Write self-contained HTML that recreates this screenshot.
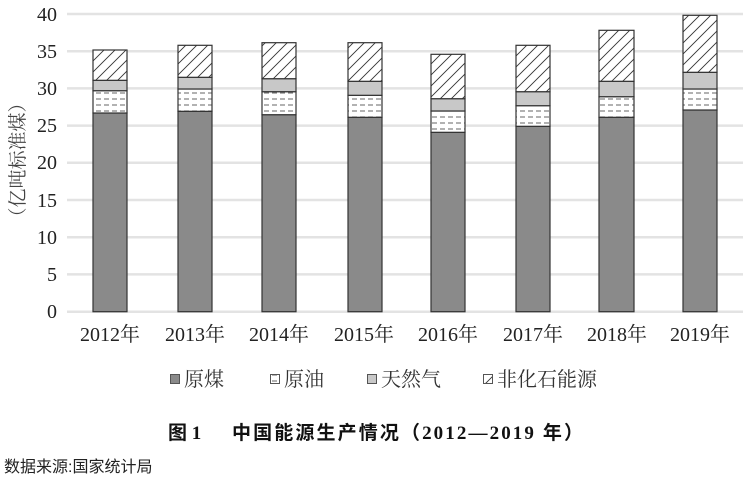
<!DOCTYPE html>
<html><head><meta charset="utf-8"><style>
body{margin:0;background:#fff;width:749px;height:479px;overflow:hidden}
svg{display:block}
.t{font-family:"Liberation Serif","Noto Serif CJK SC",serif;font-size:20px;fill:#222}
.c{font-family:"Liberation Sans","Noto Sans CJK SC",sans-serif}
</style></head><body>
<svg width="749" height="479" xmlns="http://www.w3.org/2000/svg">
<defs>
<pattern id="h" patternUnits="userSpaceOnUse" width="11" height="11">
<rect width="11" height="11" fill="#fff"/>
<path d="M-1,12 L12,-1 M-6,6 L6,-6 M5,17 L17,5" stroke="#333" stroke-width="0.9"/>
</pattern>
<pattern id="d" patternUnits="userSpaceOnUse" width="8" height="6">
<rect width="8" height="6" fill="#fff"/>
<path d="M0,3 H5" stroke="#555" stroke-width="0.9"/>
</pattern>
</defs>
<g stroke="#e3e3e3" stroke-width="2.5">
<line x1="67" x2="743" y1="14" y2="14"/><line x1="67" x2="743" y1="51.2" y2="51.2"/>
<line x1="67" x2="743" y1="88.4" y2="88.4"/><line x1="67" x2="743" y1="125.6" y2="125.6"/>
<line x1="67" x2="743" y1="162.8" y2="162.8"/><line x1="67" x2="743" y1="200" y2="200"/>
<line x1="67" x2="743" y1="237.2" y2="237.2"/><line x1="67" x2="743" y1="274.4" y2="274.4"/>
<line x1="67" x2="743" y1="311.7" y2="311.7"/>
</g>
<g class="t" text-anchor="end">
<text x="57" y="21">40</text><text x="57" y="58">35</text><text x="57" y="95">30</text>
<text x="57" y="132">25</text><text x="57" y="169">20</text><text x="57" y="207">15</text>
<text x="57" y="244">10</text><text x="57" y="281">5</text><text x="57" y="318">0</text>
</g>
<text class="t" transform="translate(24,160) rotate(-90)" text-anchor="middle" style="font-size:19px;fill:#444">（亿吨标准煤）</text>
<g stroke="#333" stroke-width="1.2">
<rect x="93" y="113" width="34" height="198.7" fill="#8a8a8a"/><rect x="93" y="90.7" width="34" height="22.3" fill="url(#d)"/><rect x="93" y="80.3" width="34" height="10.4" fill="#c8c8c8"/><rect x="93" y="50" width="34" height="30.3" fill="url(#h)"/>
<rect x="178" y="111.3" width="34" height="200.4" fill="#8a8a8a"/><rect x="178" y="89" width="34" height="22.3" fill="url(#d)"/><rect x="178" y="77.3" width="34" height="11.7" fill="#c8c8c8"/><rect x="178" y="45.3" width="34" height="32" fill="url(#h)"/>
<rect x="262" y="114.7" width="34" height="197" fill="#8a8a8a"/><rect x="262" y="91.7" width="34" height="23" fill="url(#d)"/><rect x="262" y="78.7" width="34" height="13" fill="#c8c8c8"/><rect x="262" y="42.7" width="34" height="36" fill="url(#h)"/>
<rect x="348" y="117.3" width="34" height="194.4" fill="#8a8a8a"/><rect x="348" y="95.3" width="34" height="22" fill="url(#d)"/><rect x="348" y="81.3" width="34" height="14" fill="#c8c8c8"/><rect x="348" y="42.7" width="34" height="38.6" fill="url(#h)"/>
<rect x="431" y="132.3" width="34" height="179.4" fill="#8a8a8a"/><rect x="431" y="111" width="34" height="21.3" fill="url(#d)"/><rect x="431" y="98.7" width="34" height="12.3" fill="#c8c8c8"/><rect x="431" y="54.3" width="34" height="44.4" fill="url(#h)"/>
<rect x="516" y="126.3" width="34" height="185.4" fill="#8a8a8a"/><rect x="516" y="105.7" width="34" height="20.6" fill="url(#d)"/><rect x="516" y="91.7" width="34" height="14" fill="#c8c8c8"/><rect x="516" y="45.3" width="34" height="46.4" fill="url(#h)"/>
<rect x="599" y="117.3" width="35" height="194.4" fill="#8a8a8a"/><rect x="599" y="96.7" width="35" height="20.6" fill="url(#d)"/><rect x="599" y="81.3" width="35" height="15.4" fill="#c8c8c8"/><rect x="599" y="30.3" width="35" height="51" fill="url(#h)"/>
<rect x="683" y="110" width="34" height="201.7" fill="#8a8a8a"/><rect x="683" y="89" width="34" height="21" fill="url(#d)"/><rect x="683" y="72.3" width="34" height="16.7" fill="#c8c8c8"/><rect x="683" y="15.3" width="34" height="57" fill="url(#h)"/>
</g>
<g class="t" text-anchor="middle">
<text x="110" y="341">2012年</text><text x="195" y="341">2013年</text><text x="279" y="341">2014年</text>
<text x="364" y="341">2015年</text><text x="448" y="341">2016年</text><text x="533" y="341">2017年</text>
<text x="617" y="341">2018年</text><text x="700" y="341">2019年</text>
</g>
<g stroke="#555" stroke-width="1">
<rect x="170.5" y="374.5" width="9" height="9" fill="#8a8a8a"/>
<rect x="270.5" y="374.5" width="9" height="9" fill="url(#d)"/>
<rect x="367.5" y="374.5" width="9" height="9" fill="#c8c8c8"/>
<rect x="483.5" y="374.5" width="9" height="9" fill="url(#h)"/>
</g>
<g class="t" style="font-size:20px;fill:#333">
<text x="184" y="386">原煤</text><text x="284" y="386">原油</text>
<text x="381" y="386">天然气</text><text x="497" y="386">非化石能源</text>
</g>
<text x="168" y="439" style="font-family:'Liberation Serif','Noto Sans CJK SC',sans-serif;font-weight:bold;font-size:19px;fill:#111">图 1</text>
<text x="232" y="439" textLength="351" lengthAdjust="spacing" style="font-family:'Liberation Serif','Noto Sans CJK SC',sans-serif;font-weight:bold;font-size:19px;fill:#111">中国能源生产情况（2012—2019 年）</text>
<text x="4" y="472" class="c" style="font-size:16px;fill:#222">数据来源:国家统计局</text>
</svg>
</body></html>
